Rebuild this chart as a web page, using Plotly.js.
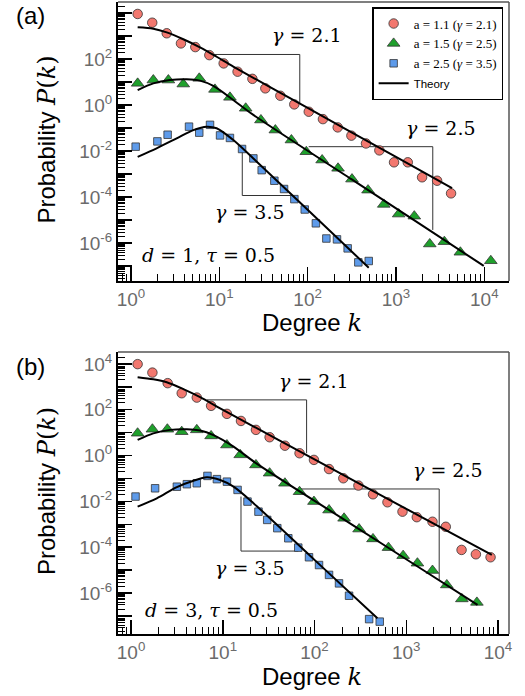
<!DOCTYPE html>
<html><head><meta charset="utf-8">
<script src="https://cdn.plot.ly/plotly-3.0.1.min.js"></script>
<style>html,body{margin:0;padding:0;background:#fff}#chart{width:525px;height:696px}</style>
</head><body><div id="chart"></div>
<script>
// ---------- Panel (a): d = 1, tau = 0.5 ----------
const kRedA = [1.19,1.74,2.54,3.68,5.35,7.71,11.2,16.1,23.7,33.2,49.1,70.6,103,149,219,313,458,649,951,1361,1977,2924,4207];
const pRedA = [9100,3800,1320,479,331,148,64.6,28.2,13.8,5.32,2.54,1.07,0.513,0.245,0.107,0.0468,0.0214,0.0107,0.00324,0.00324,7.24e-4,5.13e-4,1.45e-4];
const kGreenA = [1.19,1.79,2.65,3.91,5.93,8.93,13.2,19.9,29.6,43.1,65.5,96.6,146,221,318,483,728,1074,1614,2415,3532,5358,11858];
const pGreenA = [8.77,12.2,12.2,8.18,14.5,4.79,2.16,0.724,0.224,0.0818,0.0302,0.00933,0.00407,0.00178,6.03e-4,2.0e-4,4.79e-5,1.82e-5,1.48e-5,9.12e-7,1.15e-6,3.98e-7,1.70e-7];
const kBlueA = [1.13,1.99,2.60,4.54,5.93,7.85,10.2,13.2,18.1,24.3,30.2,42.0,54.1,70.8,92.7,124,163,215,284,375,492];
const pBlueA = [0.0155,0.0263,0.0513,0.115,0.0631,0.138,0.0479,0.0372,0.0123,0.00479,0.00148,5.13e-4,2.24e-4,8.13e-5,2.88e-5,7.24e-6,1.58e-6,1.45e-6,5.89e-7,1.45e-7,1.66e-7];
const kThRedA = [1.19,1.79,2.54,3.91,6.04,9.33,14.4,100,1000,4315];
const pThRedA = [2400,2090,1445,724,324,126,46.8,0.753,5.56e-3,2.45e-4];
const kThGreenA = [1.19,1.79,2.77,4.28,6.04,8.55,14.4,24.3,316,1995,9863];
const pThGreenA = [4.49,8.77,12.2,13.2,11.5,6.76,1.66,0.372,5.85e-4,5.70e-6,1.02e-7];
const kThBlueA = [1.19,1.95,3.29,5.08,7.19,9.33,14.4,24.3,100,492];
const pThBlueA = [5.62e-3,0.0132,0.0355,0.0813,0.115,0.0977,0.0302,4.79e-3,2.79e-5,8.51e-8];
// slope guides (a)
const kG21A = [7.64,81.5,81.5], pG21A = [158,158,1.19];
const kG25A = [102.8,2612,2612], pG25A = [0.0155,0.0155,3.72e-6];
const kG35A = [18.2,18.2,70.8], pG35A = [0.0123,1.17e-4,1.17e-4];

// ---------- Panel (b): d = 3, tau = 0.5 ----------
const kRedB = [1.18,1.71,2.51,3.57,5.21,7.46,11.1,15.8,23.0,32.4,47.6,68.7,98.6,144,206,301,434,624,910,1303,1932,2698,4009,5741,8299];
const pRedB = [9770,4170,1445,525,339,148,66.1,32.4,13.2,6.31,2.69,1.26,0.646,0.257,0.102,0.049,0.0204,0.00912,0.00355,0.00204,0.00129,7.76e-4,7.59e-5,4.9e-5,3.63e-5];
const kGreenB = [1.18,1.71,2.49,3.57,5.21,7.46,11.1,15.5,23.0,32.4,47.6,68.7,98.6,144,210,306,434,640,925,1324,1932,2767,4036,5888];
const pGreenB = [9.42,14.1,14.1,11.0,13.2,7.18,2.88,1.07,0.389,0.17,0.0617,0.0263,0.00977,0.00417,0.00182,6.17e-4,2.29e-4,9.55e-5,4.27e-5,2.0e-5,9.55e-6,2.24e-6,5.5e-7,3.89e-7];
const kBlueB = [1.12,1.83,3.16,4.06,5.21,6.81,8.63,11.1,14.5,18.6,24.5,30.5,39.3,51.8,66.5,87.1,112,144,185,238,394,514];
const pBlueB = [0.0162,0.0372,0.0437,0.0562,0.0617,0.129,0.0933,0.0724,0.0316,0.00977,0.00355,0.00155,6.76e-4,2.45e-4,9.55e-5,3.63e-5,1.66e-5,6.17e-6,2.63e-6,7.59e-7,7.24e-8,5.62e-8];
const kThRedB = [1.18,1.75,2.45,3.72,5.66,8.63,13.1,100,1000,8570];
const pThRedB = [2630,2140,1585,794,355,138,55,0.681,4.71e-3,4.57e-5];
const kThGreenB = [1.18,1.75,2.67,4.06,5.66,7.91,13.1,23.0,251,1585,5984];
const pThGreenB = [4.79,9.33,13.2,14.1,12.3,7.76,2.45,0.468,1.02e-3,9.1e-6,3.02e-7];
const kThBlueB = [1.18,1.91,3.16,4.79,6.70,9.38,13.1,21.6,100,485];
const pThBlueB = [5.89e-3,0.0135,0.0417,0.0794,0.112,0.0851,0.0437,8.32e-3,2.79e-5,7.94e-8];
const kG21B = [6.70,82.0,82.0], pG21B = [269,269,1.26];
const kG25B = [67.8,2286,2286], pG25B = [0.0347,0.0347,3.72e-6];
const kG35B = [15.8,15.8,66.5], pG35B = [0.0162,6.76e-5,6.76e-5];

// ---------- labels ----------
const seriesNames = ['a = 1.1 (<i>γ</i> = 2.1)','a = 1.5 (<i>γ</i> = 2.5)','a = 2.5 (<i>γ</i> = 3.5)'];
const theoryName = '<span style="font-family:Liberation Sans;font-size:11.5px">Theory</span>';
const xTickVals = [1,10,100,1000,10000];
const xTickText = ['10<sup>0</sup>','10<sup>1</sup>','10<sup>2</sup>','10<sup>3</sup>','10<sup>4</sup>'];
const yTickVals = [1e-7,1e-6,1e-5,1e-4,1e-3,1e-2,1e-1,1,10,100,1000,1e4];
const yTickText = ['','10<sup>-6</sup>','','10<sup>-4</sup>','','10<sup>-2</sup>','','10<sup>0</sup>','','10<sup>2</sup>','','10<sup>4</sup>'];

const RED='#F2786F', GREEN='#1FA02C', BLUE='#5E9BEA';
const mk = (sym, col, size) => ({symbol: sym, color: col, size: size, line: {color: '#333', width: 0.8}});

function pts(x, y, sym, col, size, name, xa, ya, show) {
  return {x, y, type: 'scatter', mode: 'markers', marker: mk(sym, col, size), name,
          showlegend: show, xaxis: xa, yaxis: ya, hoverinfo: 'skip', cliponaxis: false};
}
function th(x, y, xa, ya, show) {
  return {x, y, type: 'scatter', mode: 'lines', line: {color: '#000', width: 2, shape: 'spline', smoothing: 0.8},
          name: theoryName, showlegend: show, xaxis: xa, yaxis: ya, hoverinfo: 'skip'};
}
function guide(x, y, xa, ya) {
  return {x, y, type: 'scatter', mode: 'lines', line: {color: '#333', width: 1},
          showlegend: false, xaxis: xa, yaxis: ya, hoverinfo: 'skip'};
}

const data = [
  guide(kG21A, pG21A, 'x', 'y'), guide(kG25A, pG25A, 'x', 'y'), guide(kG35A, pG35A, 'x', 'y'),
  guide(kG21B, pG21B, 'x2', 'y2'), guide(kG25B, pG25B, 'x2', 'y2'), guide(kG35B, pG35B, 'x2', 'y2'),
  pts(kRedA, pRedA, 'circle', RED, 9.5, seriesNames[0], 'x', 'y', true),
  pts(kGreenA, pGreenA, 'triangle-up', GREEN, 11, seriesNames[1], 'x', 'y', true),
  pts(kBlueA, pBlueA, 'square', BLUE, 7.5, seriesNames[2], 'x', 'y', true),
  th(kThRedA, pThRedA, 'x', 'y', true),
  th(kThGreenA, pThGreenA, 'x', 'y', false),
  th(kThBlueA, pThBlueA, 'x', 'y', false),
  pts(kRedB, pRedB, 'circle', RED, 9.5, seriesNames[0], 'x2', 'y2', false),
  pts(kGreenB, pGreenB, 'triangle-up', GREEN, 11, seriesNames[1], 'x2', 'y2', false),
  pts(kBlueB, pBlueB, 'square', BLUE, 7.5, seriesNames[2], 'x2', 'y2', false),
  th(kThRedB, pThRedB, 'x2', 'y2', false),
  th(kThGreenB, pThGreenB, 'x2', 'y2', false),
  th(kThBlueB, pThBlueB, 'x2', 'y2', false)
];

const tickFont = {family: 'Liberation Sans, Arial, sans-serif', size: 19, color: '#6b6b6b'};
function xax(range, anchor) {
  return {type: 'log', range, anchor, domain: [0, 1], tickmode: 'array', tickvals: xTickVals, ticktext: xTickText,
    ticks: 'inside', ticklen: 14, tickwidth: 1.5, tickcolor: '#000', showline: true, linecolor: '#000', linewidth: 2,
    showgrid: false, zeroline: false, tickfont: tickFont,
    minor: {ticks: 'inside', ticklen: 7, tickwidth: 1, tickcolor: '#000', dtick: 'D1', showgrid: false}};
}
function yax(range, domain, anchor) {
  return {type: 'log', range, domain, anchor, tickmode: 'array', tickvals: yTickVals, ticktext: yTickText,
    ticks: 'inside', ticklen: 14, tickwidth: 1.5, tickcolor: '#000', showline: true, linecolor: '#000', linewidth: 2,
    showgrid: false, zeroline: false, tickfont: tickFont,
    minor: {ticks: 'inside', ticklen: 7, tickwidth: 1, tickcolor: '#000', dtick: 'D1', showgrid: false}};
}

const mathFont = {family: 'DejaVu Serif, serif', size: 19, color: '#000'};
function ann(text, x, y, xref, yref, anchor) {
  return {text, x, y, xref, yref, showarrow: false, font: mathFont, xanchor: anchor || 'center', yanchor: 'middle'};
}
const titleFont = {family: 'Liberation Sans, Arial, sans-serif', size: 24, color: '#000'};
const pk = '<span style="font-family:DejaVu Serif"><i>P</i>(<i>k</i>)</span>';
const kk = '<span style="font-family:DejaVu Serif"><i>k</i></span>';
function pann(text, x, y, angle) {
  return {text, x, y, xref: 'paper', yref: 'paper', showarrow: false, font: titleFont,
          xanchor: 'center', yanchor: 'middle', textangle: angle || 0};
}

const annotations = [
  ann('<i>γ</i> = 2.1', 1.993, 3.04, 'x', 'y'),
  ann('<i>γ</i> = 2.5', 3.511, -1.0, 'x', 'y'),
  ann('<i>γ</i> = 3.5', 1.348, -4.64, 'x', 'y'),
  ann('<i>d</i> = 1, <i>τ</i> = 0.5', 0.102, -6.52, 'x', 'y', 'left'),
  ann('<i>γ</i> = 2.1', 1.992, 3.27, 'x2', 'y2'),
  ann('<i>γ</i> = 2.5', 3.46, -0.63, 'x2', 'y2'),
  ann('<i>γ</i> = 3.5', 1.30, -4.91, 'x2', 'y2'),
  ann('<i>d</i> = 3, <i>τ</i> = 0.5', 0.131, -6.74, 'x2', 'y2', 'left'),
  pann('Degree ' + kk, 0.496, 0.492),
  pann('Degree ' + kk, 0.496, -0.068),
  pann('Probability ' + pk, -0.182, 0.782, -90),
  pann('Probability ' + pk, -0.182, 0.226, -90),
  pann('(a)', -0.225, 0.978),
  pann('(b)', -0.225, 0.4225)
];

const border = (xr, yr) => [
  {type: 'line', xref: xr + ' domain', yref: yr + ' domain', x0: 0, x1: 1, y0: 1, y1: 1, line: {color: '#555', width: 1.5}},
  {type: 'line', xref: xr + ' domain', yref: yr + ' domain', x0: 1, x1: 1, y0: 0, y1: 1, line: {color: '#555', width: 1.5}}
];

const layout = {
  width: 525, height: 696, margin: {l: 118, r: 16, t: 2, b: 62},
  paper_bgcolor: '#fff', plot_bgcolor: '#fff', showlegend: true,
  xaxis: xax([-0.147, 4.28], 'y'),
  yaxis: yax([-7.65, 4.48], [0.5585, 1], 'x'),
  xaxis2: xax([-0.142, 4.12], 'y2'),
  yaxis2: yax([-7.79, 4.52], [0, 0.4462], 'x2'),
  legend: {x: 0.985, y: 0.992, xanchor: 'right', yanchor: 'top', bgcolor: '#fff', bordercolor: '#000', borderwidth: 1.5,
    font: {family: 'Liberation Serif, serif', size: 13, color: '#000'}, tracegroupgap: 0},
  annotations,
  shapes: border('x', 'y').concat(border('x2', 'y2'))
};

Plotly.newPlot('chart', data, layout, {displayModeBar: false, staticPlot: true});
</script></body></html>
